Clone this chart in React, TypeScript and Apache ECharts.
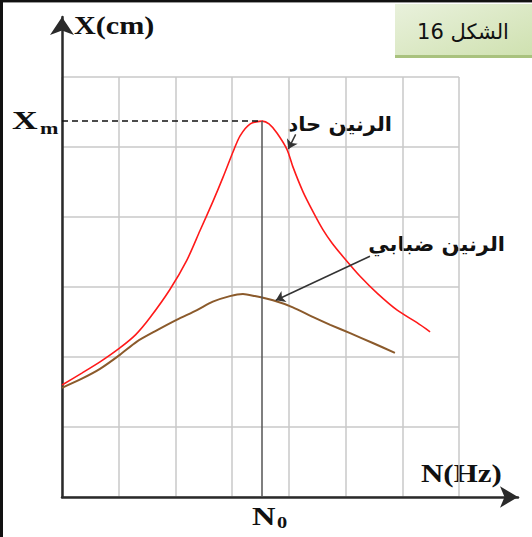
import React, { useEffect, useRef } from 'react';
import * as echarts from 'echarts';

// Frequency N in grid units (0..7), amplitude X in grid units (0..6)
const sharpResonance: [number, number][] = [
  [0, 1.6], [0.35, 1.77], [0.67, 1.93], [1.02, 2.13], [1.3, 2.32], [1.55, 2.56],
  [1.9, 2.96], [2.2, 3.38], [2.43, 3.8], [2.66, 4.22], [2.84, 4.57], [3.02, 4.94],
  [3.14, 5.16], [3.32, 5.33], [3.53, 5.37], [3.65, 5.33], [3.79, 5.2], [3.97, 4.96],
  [4.07, 4.72], [4.25, 4.36], [4.43, 4.07], [4.6, 3.82], [4.76, 3.63], [4.96, 3.43],
  [5.26, 3.15], [5.56, 2.91], [5.91, 2.67], [6.26, 2.49], [6.49, 2.36],
];

const dampedResonance: [number, number][] = [
  [0, 1.56], [0.35, 1.69], [0.67, 1.83], [1.02, 2.03], [1.32, 2.22], [1.67, 2.38],
  [2.02, 2.53], [2.38, 2.67], [2.66, 2.79], [2.96, 2.87], [3.19, 2.9], [3.4, 2.87],
  [3.72, 2.81], [4.07, 2.71], [4.43, 2.57], [4.73, 2.46], [5.08, 2.34], [5.48, 2.2],
  [5.87, 2.06],
];

const N0 = 3.53;
const XM = 5.37;

const sharpLabel = 'الرنين حاد';
const dampedLabel = 'الرنين ضبابي';
const figureLabel = 'الشكل 16';

// Pointer arrows: [from, to] in data units
const sharpPointer: [number, number][] = [[4.12, 5.18], [3.99, 4.97]];
const dampedPointer: [number, number][] = [[5.43, 3.44], [3.77, 2.81]];

const serif = '"Liberation Serif", "Times New Roman", serif';
const arabic = '"DejaVu Sans", sans-serif';

export default function App() {
  const ref = useRef<HTMLDivElement>(null);

  useEffect(() => {
    if (!ref.current) return;
    const chart = echarts.init(ref.current, null, { renderer: 'svg' });
    const gridLine = { show: true, lineStyle: { color: '#c9c9c9', width: 1.5 } };
    const hidden = { show: false };
    const label = (text: string, x: number, y: number, size: number, scaleX: number, font = serif, align = 'left', weight = 'bold') => ({
      type: 'text', x, y, scaleX,
      style: { text, font: `${weight} ${size}px ${font}`, fill: '#111', align, verticalAlign: 'middle' },
    });
    chart.setOption({
      animation: false,
      backgroundColor: '#ffffff',
      grid: [
        { left: 62, top: 77, right: 73, bottom: 40 },
        { left: 62, top: 17, right: 14, bottom: 40 },
      ],
      xAxis: [
        {
          gridIndex: 0, type: 'value', min: 0, max: 7, interval: 1,
          axisLine: hidden, axisTick: hidden, axisLabel: hidden, splitLine: gridLine,
        },
        {
          gridIndex: 1, type: 'value', min: 0, max: 1,
          axisLine: {
            show: true, symbol: ['none', 'arrow'], symbolSize: [16, 18],
            lineStyle: { color: '#2a2a2a', width: 2.5 },
          },
          axisTick: hidden, axisLabel: hidden, splitLine: hidden,
        },
      ],
      yAxis: [
        {
          gridIndex: 0, type: 'value', min: 0, max: 6, interval: 1,
          axisLine: hidden, axisTick: hidden, axisLabel: hidden, splitLine: gridLine,
        },
        {
          gridIndex: 1, type: 'value', min: 0, max: 1,
          axisLine: {
            show: true, symbol: ['none', 'arrow'], symbolSize: [18, 18],
            lineStyle: { color: '#2a2a2a', width: 2.5 },
          },
          axisTick: hidden, axisLabel: hidden, splitLine: hidden,
        },
      ],
      series: [
        {
          name: 'sharp', type: 'line', xAxisIndex: 0, yAxisIndex: 0,
          data: sharpResonance, showSymbol: false, smooth: 0.25,
          lineStyle: { color: '#ff1a1a', width: 1.6 }, z: 4,
          markLine: {
            silent: true, symbol: ['none', 'none'], label: { show: false },
            data: [
              [
                { coord: [0, XM], lineStyle: { color: '#111', width: 1.5, type: [6, 4] } },
                { coord: [N0, XM] },
              ],
              [
                { coord: [N0, 0], lineStyle: { color: '#555', width: 1.5, type: 'solid' } },
                { coord: [N0, XM] },
              ],
            ],
          },
        },
        {
          name: 'damped', type: 'line', xAxisIndex: 0, yAxisIndex: 0,
          data: dampedResonance, showSymbol: false, smooth: 0.25,
          lineStyle: { color: '#8b5a2b', width: 2 }, z: 4,
          markLine: {
            silent: true, symbol: ['none', 'arrow'], symbolSize: 9, label: { show: false },
            lineStyle: { color: '#333', width: 1.5, type: 'solid' },
            data: [
              [{ coord: sharpPointer[0] }, { coord: sharpPointer[1] }],
              [{ coord: dampedPointer[0] }, { coord: dampedPointer[1] }],
            ],
          },
        },
      ],
      graphic: [
        // page frame
        { type: 'rect', left: 0, top: 0, shape: { width: 532, height: 2 }, style: { fill: '#111' } },
        { type: 'rect', left: 0, top: 2, shape: { width: 532, height: 1 }, style: { fill: '#9a9a9a' } },
        { type: 'rect', left: 0, top: 0, shape: { width: 3, height: 537 }, style: { fill: '#111' } },
        // figure caption box
        {
          type: 'rect', left: 395, top: 4, shape: { width: 137, height: 52 },
          style: {
            fill: new echarts.graphic.LinearGradient(0, 0, 1, 1, [
              { offset: 0, color: '#e9f1dc' },
              { offset: 1, color: '#cfe1b0' },
            ]),
          },
        },
        { type: 'rect', left: 395, top: 55, shape: { width: 137, height: 3 }, style: { fill: '#a9c27e' } },
        label(figureLabel, 463, 32, 21, 1, arabic, 'center', 'normal'),
        // axis titles
        label('X(cm)', 74, 25, 26, 1.16),
        label('X', 12, 121, 25, 1.42),
        label('m', 40, 128, 17, 1.3),
        label('N(Hz)', 421, 473, 26, 1.19),
        label('N', 252, 516, 25, 1.3),
        label('0', 277, 522, 17, 1.2),
        // curve annotations
        label(sharpLabel, 392, 124, 20, 1.05, arabic, 'right'),
        label(dampedLabel, 505, 244, 20, 1.05, arabic, 'right'),
      ],
    });
    return () => chart.dispose();
  }, []);

  return (
    <div
      ref={ref}
      style={{ position: 'fixed', left: 0, top: 0, width: 532, height: 537 }}
    />
  );
}
